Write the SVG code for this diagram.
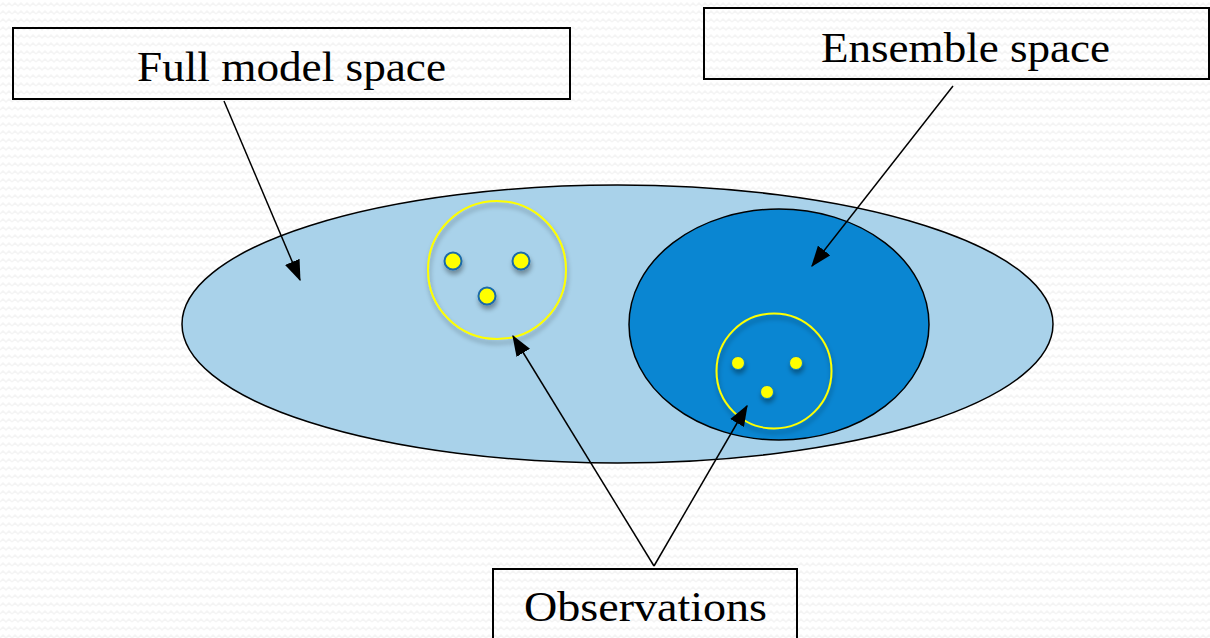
<svg xmlns="http://www.w3.org/2000/svg" width="1210" height="638" viewBox="0 0 1210 638">
<defs>
<pattern id="bg" width="12" height="8" patternUnits="userSpaceOnUse">
<rect width="12" height="8" fill="#ffffff"/>
<path d="M0 6 L3 3 L6 6 L9 3 L12 6" fill="none" stroke="#f4f4f4" stroke-width="1.5"/>
</pattern>
<filter id="sh" x="-30%" y="-30%" width="160%" height="160%">
<feGaussianBlur in="SourceAlpha" stdDeviation="2.5"/>
<feOffset dx="1" dy="4" result="b"/>
<feComponentTransfer><feFuncA type="linear" slope="0.35"/></feComponentTransfer>
<feMerge><feMergeNode/><feMergeNode in="SourceGraphic"/></feMerge>
</filter>
<marker id="ah2" viewBox="0 0 16 12" refX="15" refY="6" markerWidth="21" markerHeight="16" markerUnits="userSpaceOnUse" orient="auto">
<path d="M0 0 L16 6 L0 12 Z" fill="#000"/>
</marker>
<style>
.box{fill:none;stroke:#000;stroke-width:2}
.lbl{font-family:"Liberation Serif","DejaVu Serif",serif;font-size:43px;fill:#000}
.conn{stroke:#000;stroke-width:1.5;fill:none;marker-end:url(#ah2)}
.ring{fill:none;stroke:#ffff00;stroke-width:2}
.dot{fill:#ffff00}
</style>
</defs>
<rect width="1210" height="638" fill="url(#bg)"/>

<g id="full-model-ellipse">
<ellipse cx="617.5" cy="324" rx="435.5" ry="139" fill="#a9d2ea" stroke="#000" stroke-width="1.5"/>
</g>
<g id="ensemble-ellipse">
<ellipse cx="779" cy="324.5" rx="150" ry="115.5" fill="#0a86d2" stroke="#000" stroke-width="1.5"/>
</g>

<g id="obs-left" filter="url(#sh)">
<circle class="ring" cx="497" cy="270" r="69"/>
<circle class="dot" cx="453" cy="261" r="8.5" stroke="#1a6aa8" stroke-width="2"/>
<circle class="dot" cx="521" cy="261" r="8.5" stroke="#1a6aa8" stroke-width="2"/>
<circle class="dot" cx="487" cy="296" r="8.5" stroke="#1a6aa8" stroke-width="2"/>
</g>
<g id="obs-right" filter="url(#sh)">
<circle class="ring" cx="774" cy="371" r="57.5"/>
<circle class="dot" cx="738" cy="363" r="6.5" stroke="#0a7cc2" stroke-width="1"/>
<circle class="dot" cx="796" cy="363" r="6.5" stroke="#0a7cc2" stroke-width="1"/>
<circle class="dot" cx="767" cy="392" r="6.5" stroke="#0a7cc2" stroke-width="1"/>
</g>

<g id="connectors">
<line class="conn" x1="224" y1="101" x2="300" y2="280"/>
<line class="conn" x1="953" y1="86" x2="812" y2="266"/>
<line class="conn" x1="654" y1="566" x2="513" y2="336"/>
<line class="conn" x1="654" y1="566" x2="747" y2="406"/>
</g>

<g id="full-model-label">
<rect class="box" x="13" y="28" width="557" height="71"/>
<text class="lbl" x="137" y="81" textLength="309" lengthAdjust="spacingAndGlyphs">Full model space</text>
</g>
<g id="ensemble-label">
<rect class="box" x="704" y="8" width="505" height="71"/>
<text class="lbl" x="821" y="62" textLength="289" lengthAdjust="spacingAndGlyphs">Ensemble space</text>
</g>
<g id="observations-label">
<rect class="box" x="493" y="569" width="304" height="80"/>
<text class="lbl" x="524" y="621" textLength="243" lengthAdjust="spacingAndGlyphs">Observations</text>
</g>
</svg>
